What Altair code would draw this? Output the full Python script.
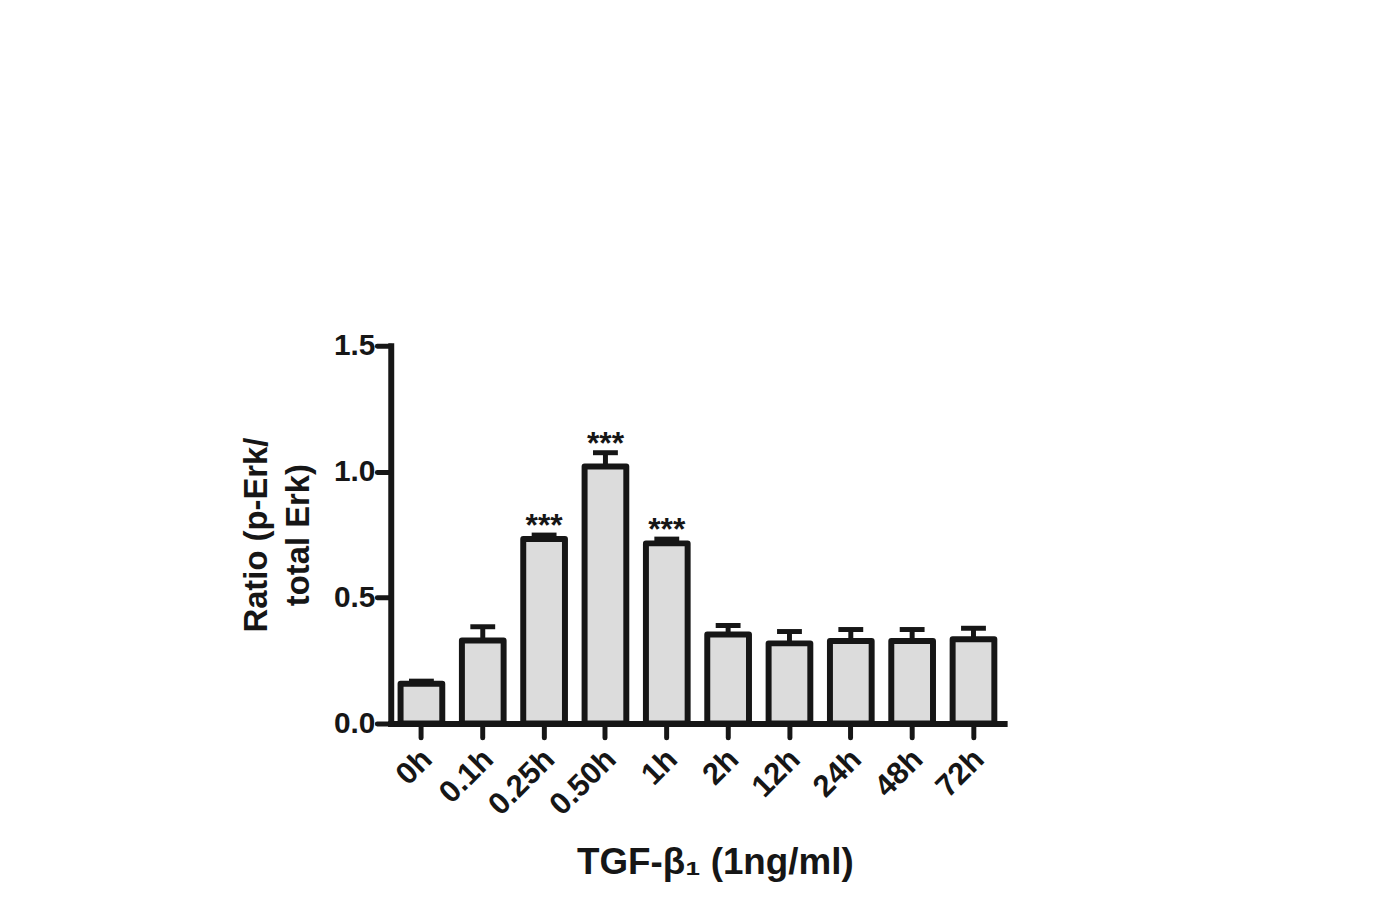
import altair as alt
import pandas as pd

categories = ["0h", "0.1h", "0.25h", "0.50h", "1h", "2h", "12h", "24h", "48h", "72h"]
means = [0.158, 0.329, 0.732, 1.020, 0.715, 0.353, 0.318, 0.327, 0.327, 0.334]
errors = [0.010, 0.055, 0.016, 0.055, 0.017, 0.036, 0.047, 0.046, 0.046, 0.044]
stars = ["", "", "***", "***", "***", "", "", "", "", ""]

df = pd.DataFrame({"cat": categories, "mean": means, "err": errors, "star": stars})
df["upper"] = df["mean"] + df["err"]

INK = "#161616"
FONT = "Liberation Sans"

x_enc = alt.X(
    "cat:N",
    sort=categories,
    scale=alt.Scale(paddingInner=0.32, paddingOuter=0.16),
    axis=alt.Axis(
        title="TGF-β₁ (1ng/ml)",
        titleFont=FONT, titleFontSize=37, titleFontWeight="bold", titleColor=INK,
        titleX=326, titleY=151, titleAlign="center", titleBaseline="alphabetic",
        labelFont=FONT, labelFontSize=31, labelFontWeight="bold", labelColor=INK,
        labelAngle=-45, labelAlign="right", labelBaseline="middle",
        labelPadding=17, labelOffset=6,
        domainColor=INK, domainWidth=6, domainCap="square",
        tickColor=INK, tickWidth=5, tickSize=14, tickCap="round",
    ),
)

y_scale = alt.Scale(domain=[0, 1.5], nice=False)
y_axis = alt.Axis(
    title=["Ratio (p-Erk/", "total Erk)"],
    titleFont=FONT, titleFontSize=33, titleFontWeight="bold", titleColor=INK,
    titleAngle=-90, titleX=-125, titleY=190, titleAlign="center",
    titleBaseline="alphabetic", titleLineHeight=42,
    values=[0, 0.5, 1.0, 1.5], format=".1f",
    labelFont=FONT, labelFontSize=30, labelFontWeight="bold", labelColor=INK,
    labelPadding=2, grid=False,
    domainColor=INK, domainWidth=6, domainCap="square",
    tickColor=INK, tickWidth=5, tickSize=14, tickCap="round",
)

base = alt.Chart(df)

rules = base.mark_rule(color=INK, strokeWidth=5).encode(
    x=x_enc,
    y=alt.Y("mean:Q", scale=y_scale, axis=y_axis),
    y2="upper:Q",
)

caps = base.mark_tick(color=INK, thickness=5, size=25, opacity=1).encode(
    x=alt.X("cat:N", sort=categories),
    y=alt.Y("upper:Q", scale=y_scale),
)

bars = base.mark_bar(fill="#dcdcdc", stroke=INK, strokeWidth=6, strokeJoin="round").encode(
    x=alt.X("cat:N", sort=categories),
    y=alt.Y("mean:Q", scale=y_scale),
)

text = base.mark_text(
    font=FONT, fontSize=32, fontWeight="bold", color=INK, baseline="alphabetic", dy=1
).encode(
    x=alt.X("cat:N", sort=categories),
    y=alt.Y("upper:Q", scale=y_scale),
    text="star:N",
)

chart = alt.layer(rules, caps, bars, text).properties(
    width=617,
    height=380,
    background="white",
    autosize=alt.AutoSizeParams(type="none"),
    padding={"left": 385, "top": 337, "right": 369, "bottom": 190},
).configure_view(stroke=None)

chart.save("out.html", embed_options={"renderer": "svg", "actions": False})
